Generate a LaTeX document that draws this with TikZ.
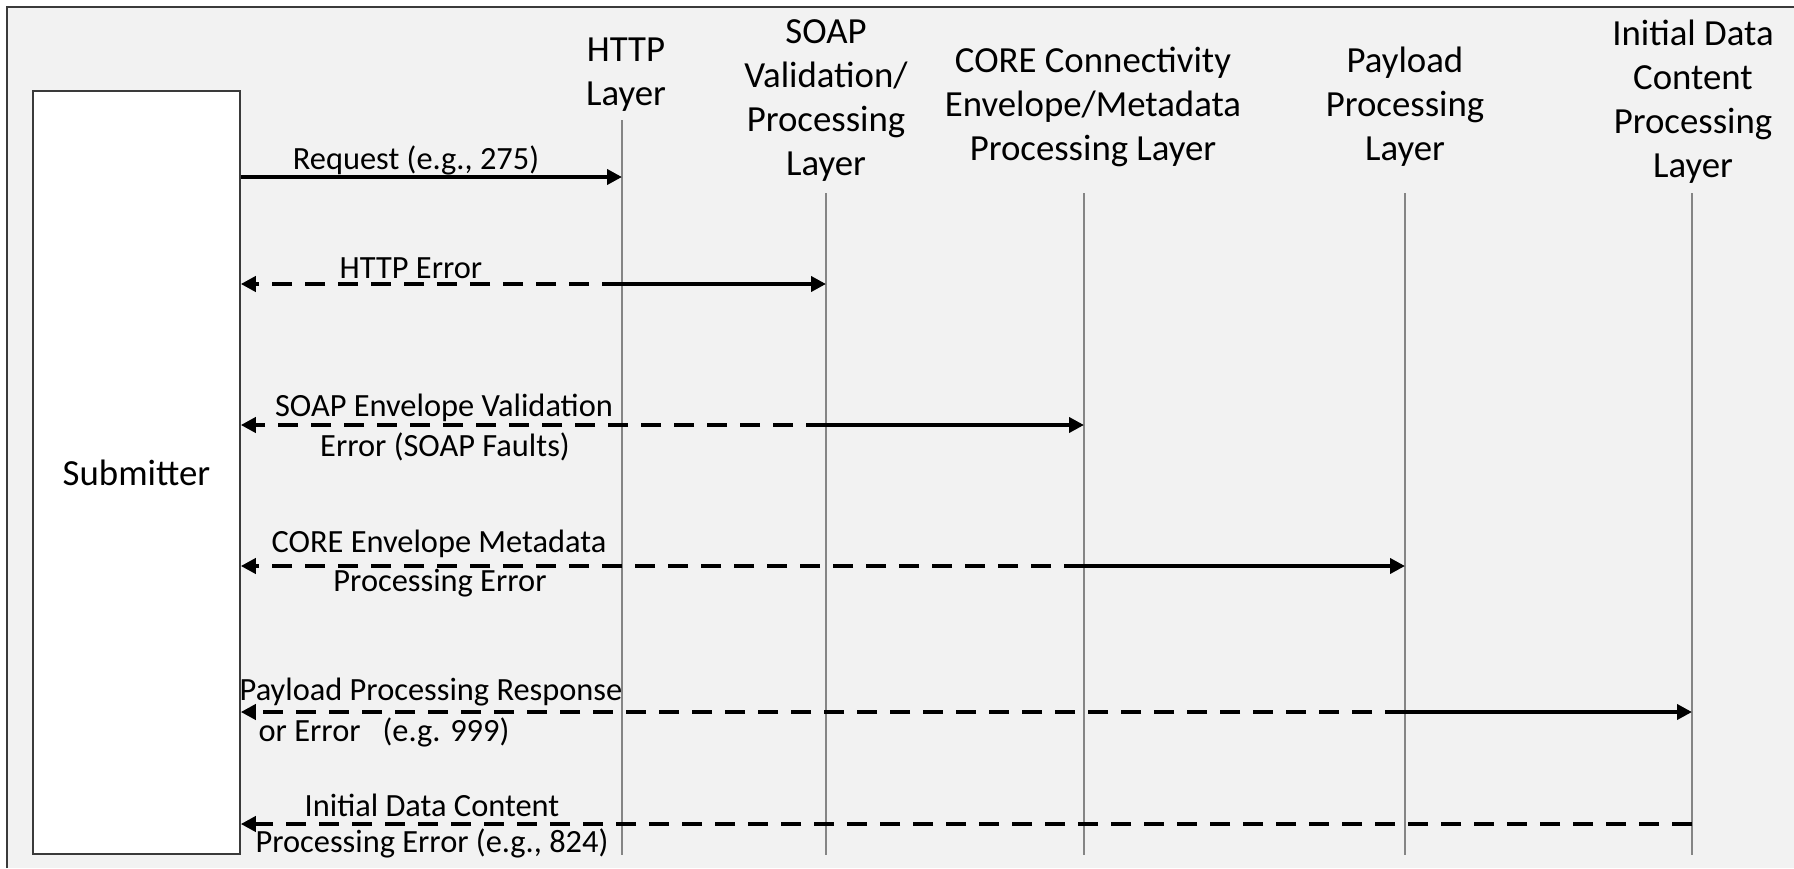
\documentclass[tikz,border=0pt]{standalone}
\usepackage{fontspec}
\setmainfont{Carlito}
\usetikzlibrary{arrows.meta}
\definecolor{bg}{HTML}{F2F2F2}
\definecolor{lifeg}{HTML}{858585}
\definecolor{framec}{HTML}{3A3A3A}
\begin{document}
\begin{tikzpicture}[x=0.5pt,y=-0.5pt,
  font=\fontsize{18.4}{22}\selectfont,
  hdr/.style={align=center,inner sep=0pt},
  lbl/.style={align=center,inner sep=0pt,font=\fontsize{16.2}{19.5}\selectfont},
  subbox/.style={draw=framec,fill=white,line width=0.8pt,minimum width=103.5pt,minimum height=381.5pt,inner sep=0pt},
  life/.style={draw=lifeg,line width=0.75pt},
  call/.style={line width=2pt,-{Triangle[length=7.5pt,width=7.5pt]}},
  reply/.style={call,dash pattern=on 10pt off 6.5pt},
  framel/.style={draw=framec,line width=1.2pt}]
\useasboundingbox (0,0) rectangle (1794,868);
\fill[bg] (7,7) rectangle (1794,868);
\draw[framel] (7,868) -- (7,7) -- (1794,7);

% submitter
\node[subbox] (sub) at (136.5,472.5) {Submitter};

% headers
\node[hdr] (h1) at (626,75) {HTTP\\Layer};
\node[hdr] (h2) at (826,101) {SOAP\\Validation/\\Processing\\Layer};
\node[hdr] (h3) at (1093,107) {CORE Connectivity\\Envelope/Metadata\\Processing Layer};
\node[hdr] (h4) at (1405,107) {Payload\\Processing\\Layer};
\node[hdr] (h5) at (1693,102) {Initial Data\\Content\\Processing\\Layer};

% lifelines
\coordinate (l1t) at (622,120);  \coordinate (l1b) at (622,855);
\coordinate (l2t) at (826,193);  \coordinate (l2b) at (826,855);
\coordinate (l3t) at (1084,193); \coordinate (l3b) at (1084,855);
\coordinate (l4t) at (1405,193); \coordinate (l4b) at (1405,855);
\coordinate (l5t) at (1692,193); \coordinate (l5b) at (1692,855);
\draw[life] (l1t) -- (l1b);
\draw[life] (l2t) -- (l2b);
\draw[life] (l3t) -- (l3b);
\draw[life] (l4t) -- (l4b);
\draw[life] (l5t) -- (l5b);

% rows
\coordinate (r1) at (0,177);
\coordinate (r2) at (0,284);
\coordinate (r3) at (0,425);
\coordinate (r4) at (0,566);
\coordinate (r5) at (0,712);
\coordinate (r6) at (0,824);

% forward calls
\draw[call] (sub.east |- r1) -- (l1t |- r1);
\draw[call] (l1t |- r2) -- (l2t |- r2);
\draw[call] (l2t |- r3) -- (l3t |- r3);
\draw[call] (l3t |- r4) -- (l4t |- r4);
\draw[call] (l4t |- r5) -- (l5t |- r5);

% replies
\draw[reply] (l1t |- r2) -- (sub.east |- r2);
\draw[reply] (l2t |- r3) -- (sub.east |- r3);
\draw[reply] (l3t |- r4) -- (sub.east |- r4);
\draw[reply] (l4t |- r5) -- (sub.east |- r5);
\draw[reply] (l5t |- r6) -- (sub.east |- r6);

% labels
\node[lbl] (t1) at (416,160) {Request (e.g., 275)};
\node[lbl] (t2) at (411,268) {HTTP Error};
\node[lbl] (t3a) at (444,408) {SOAP Envelope Validation};
\node[lbl] (t3b) at (445,447) {Error (SOAP Faults)};
\node[lbl] (t4a) at (439,544) {CORE Envelope Metadata};
\node[lbl] (t4b) at (440,583) {Processing Error};
\node[lbl] (t5a) at (431,692) {Payload Processing Response};
\node[lbl] (t5b) at (384,732) {or Error~~ (e.g. 999)};
\node[lbl] (t6a) at (432,805) {Initial Data Content};
\node[lbl] (t6b) at (432,843) {Processing Error (e.g., 824)};
\end{tikzpicture}
\end{document}
